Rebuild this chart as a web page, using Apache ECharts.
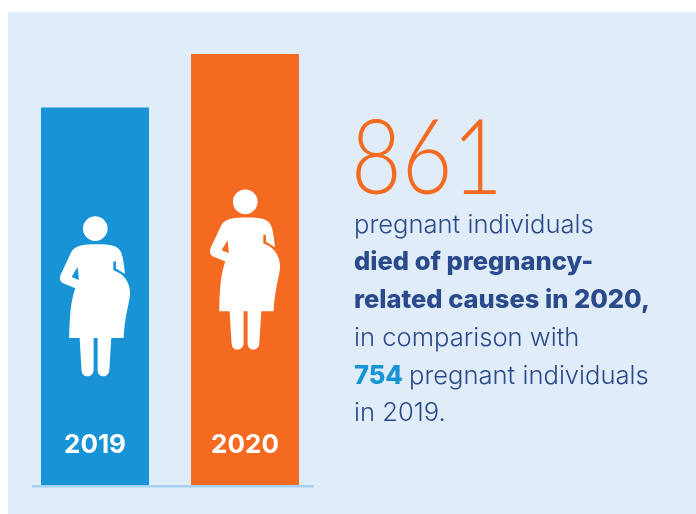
<!DOCTYPE html>
<html><head><meta charset="utf-8">
<style>html,body{margin:0;padding:0;background:#fff}#c{width:696px;height:514px}</style>
<script src="https://cdn.jsdelivr.net/npm/echarts@6/dist/echarts.min.js"></script>
</head><body><div id="c"></div>
<script>
const years = ['2019', '2020'];
const deaths = [754, 861];
const barColors = ['#1793D6', '#F46A21'];
const headline = '861';
const plainLine1 = 'pregnant individuals';
const boldLine2 = 'died of pregnancy-';
const boldLine3 = 'related causes in 2020,';
const plainLine4 = 'in comparison with';
const accentLine5 = '754';
const plainLine5 = 'pregnant individuals';
const plainLine6 = 'in 2019.';

const figure = 'path://M196 222C225 222 255 222 268 238C277 250 280 265 285 311L258 295L258 274L250 274L250 299L262 305C285 315 300 340 300 368C300 395 285 430 281 503L244 503L238 600C237 612 228 618 220 618C211 618 204 612 203 600L203 503L191 503L191 600C190 612 181 618 172 618C163 618 156 612 155 600L149 503L118 503C119 440 122 395 136 354L100 339C90 335 88 322 93 312L122 250C130 232 145 222 196 222ZM143 290L125 320L147 329ZM159 175a37 37 0 1 0 74 0a37 37 0 1 0 -74 0Z';

const ink = '#2B4A8B';
const light = '300 25.6px Inter';
const bold = '800 25.5px Inter';
const t = (text, x, base, font, fill) => ({type:'text', silent:true, z:20, style:{text, x, y:base, font, fill: fill||ink, verticalAlign:'bottom'}});

const chart = echarts.init(document.getElementById('c'), null, {renderer:'canvas'});
chart.setOption({
  animation:false,
  backgroundColor:'#fff',
  grid:{left:20, width:300, top:54, bottom:29},
  xAxis:{type:'category', data:years, z:10, axisLine:{show:false}, axisTick:{show:false},
    axisLabel:{inside:true, margin:27, color:'#fff', fontFamily:'Inter', fontWeight:700, fontSize:26}},
  yAxis:{type:'value', min:0, max:861, show:false, splitLine:{show:false}},
  series:[
    {type:'bar', barWidth:108, silent:true, data:deaths.map((v,i)=>({value:v,itemStyle:{color:barColors[i]}}))},
    {type:'scatter', silent:true, z:5, symbol:figure, symbolSize:[70,160], itemStyle:{color:'#fff',opacity:1},
     data:deaths.map((v,i)=>[years[i], v/2])}
  ]
});
const y0 = chart.convertToPixel({yAxisIndex:0}, 0);
chart.setOption({graphic:[
  {type:'rect', silent:true, z:-10, shape:{x:8,y:12,width:688,height:502}, style:{fill:'#E0ECF8'}},
  {type:'rect', silent:true, z:-5, shape:{x:32,y:y0,width:282,height:2.6}, style:{fill:'#A8D1F1'}},
  Object.assign(t(headline, 0, 192+20, '300 104px Lato', '#F46A21'), {x:351, scaleX:0.84}),
  t(plainLine1, 354, 233+5, light),
  t(boldLine2, 354, 270+5, bold),
  t(boldLine3, 354, 308+5, bold),
  t(plainLine4, 354, 346+5, light),
  t(accentLine5, 354, 384+5, bold, '#1793D6'),
  t(plainLine5, 409, 384+5, light),
  t(plainLine6, 354, 421+5, light)
]});
</script></body></html>
